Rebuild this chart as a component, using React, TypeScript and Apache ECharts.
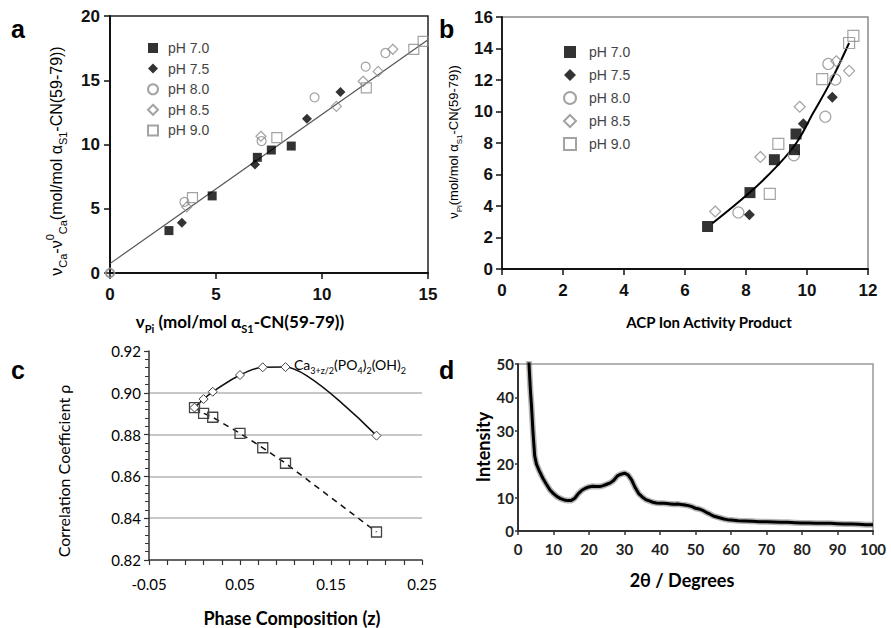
import React, { useEffect, useRef } from 'react';
import * as echarts from 'echarts';

const ARIAL = 'Liberation Sans, Arial, sans-serif';
const CAL = 'Lato, Open Sans, sans-serif';

const legendNames = ['pH 7.0', 'pH 7.5', 'pH 8.0', 'pH 8.5', 'pH 9.0'];

// Panel a: [nu_Pi, nu_Ca - nu0_Ca]
const a_pH70 = [[2.78, 3.3], [4.82, 6.0], [6.95, 9.0], [7.61, 9.57], [8.55, 9.88]];
const a_pH75 = [[3.39, 3.92], [6.84, 8.45], [9.29, 12.0], [10.87, 14.09]];
const a_pH80 = [[0, 0], [3.51, 5.53], [7.15, 10.27], [9.65, 13.67], [12.06, 16.06], [12.99, 17.12]];
const a_pH85 = [[0, 0], [3.62, 5.14], [7.12, 10.64], [10.68, 12.97], [11.94, 14.92], [12.65, 15.69], [13.34, 17.41]];
const a_pH90 = [[3.89, 5.86], [7.87, 10.53], [12.09, 14.4], [14.33, 17.41], [14.77, 18.03]];
const a_fit = [[0, 0.73], [15, 18.16]];

// Panel b: [ACP IAP, nu_Pi]
const b_pH70 = [[6.74, 2.7], [8.13, 4.85], [8.93, 6.94], [9.59, 7.58], [9.64, 8.57]];
const b_pH75 = [[8.11, 3.44], [9.88, 9.22], [10.83, 10.91]];
const b_pH80 = [[7.75, 3.59], [9.57, 7.22], [10.6, 9.67], [10.7, 13.02], [10.93, 12.03]];
const b_pH85 = [[6.99, 3.65], [8.47, 7.11], [9.76, 10.3], [10.96, 13.19], [11.38, 12.58]];
const b_pH90 = [[8.78, 4.77], [9.06, 7.94], [10.5, 12.05], [11.38, 14.35], [11.52, 14.8]];
const b_fit = [[6.9, 2.9], [8.12, 4.85], [9.0, 6.5], [9.65, 8.0], [10.2, 9.9], [10.75, 11.8], [11.38, 14.35]];

// Panel c
const c_z = [0, 0.01, 0.02, 0.05, 0.075, 0.1, 0.2];
const c_hydroxy = [0.8929, 0.897, 0.9005, 0.9085, 0.9122, 0.9123, 0.8795];
const c_other = [0.8929, 0.8902, 0.8883, 0.8806, 0.8737, 0.8663, 0.8334];
const C_XMIN = -0.05;

// Panel d
const xrdAngle = [2.9, 3.1, 3.5, 3.8, 4.2, 4.7, 5.2,
  6, 7, 8, 9, 10, 11, 12, 13, 14, 15, 16, 17, 18, 19, 20, 21, 22, 23, 24, 25, 26, 27, 28, 29, 30,
  31, 32, 33, 34, 35, 36, 37, 38, 39, 40, 41, 42, 43, 44, 45, 46, 47, 48, 49, 50,
  51, 52, 53, 54, 55, 56, 57, 58, 59, 60,
  62, 64, 66, 68, 70, 72, 74, 76, 78, 80, 82, 84, 86, 88, 90, 92, 94, 96, 98, 100];
const xrdIntensity = [55, 50, 42, 37.5, 30, 22.5, 20,
  18, 15.8, 14, 12.3, 11.2, 10.3, 9.7, 9.3, 9.1, 9.1, 9.8, 11.2, 12.2, 12.8, 13.2, 13.4, 13.3, 13.3, 13.6, 14, 14.4, 15.2, 16.5, 17, 17.3,
  16.8, 15.3, 13, 11.2, 10.2, 9.4, 9, 8.6, 8.4, 8.3, 8.3, 8.2, 8.1, 8.0, 8.1, 7.9, 7.8, 7.6, 7.3, 6.8,
  6.6, 6.2, 5.6, 5.1, 4.5, 4.2, 3.9, 3.6, 3.4, 3.3,
  3.1, 3.0, 2.9, 2.8, 2.8, 2.7, 2.6, 2.6, 2.5, 2.4, 2.4, 2.3, 2.3, 2.3, 2.2, 2.1, 2.1, 2.0, 1.9, 1.9];

const OPEN = '#8c8c8c';

function scatterSet(idx: number, sets: number[][][], sizes: number[]) {
  const styles = [
    { symbol: 'rect', itemStyle: { color: '#000' } },
    { symbol: 'diamond', itemStyle: { color: '#000' } },
    { symbol: 'circle', itemStyle: { color: 'rgba(255,255,255,0)', borderColor: OPEN, borderWidth: 1.2 } },
    { symbol: 'diamond', itemStyle: { color: 'rgba(255,255,255,0)', borderColor: OPEN, borderWidth: 1.2 } },
    { symbol: 'rect', itemStyle: { color: 'rgba(255,255,255,0)', borderColor: OPEN, borderWidth: 1.2 } },
  ];
  return sets.map((d, i) => ({
    type: 'scatter',
    name: legendNames[i],
    xAxisIndex: idx,
    yAxisIndex: idx,
    data: d,
    symbol: styles[i].symbol,
    symbolSize: sizes[i],
    itemStyle: styles[i].itemStyle,
    z: i < 2 ? 4 : 3,
  }));
}

function axis(grid: number, min: number, max: number, interval: number, o: any = {}) {
  return {
    type: 'value',
    gridIndex: grid,
    min,
    max,
    interval,
    axisLine: { show: true, onZero: false, lineStyle: { color: o.lineColor || '#111', width: o.lineWidth || 2 } },
    axisTick: { show: true, inside: false, length: o.tickLen ?? 6, lineStyle: { color: o.lineColor || '#111', width: o.tickWidth || 1.5 } },
    axisLabel: {
      fontFamily: o.font || ARIAL,
      fontWeight: o.weight || 'bold',
      fontSize: o.fontSize || 17,
      color: o.labelColor || '#111',
      margin: o.margin ?? 10,
      formatter: o.formatter,
      padding: o.padding,
    },
    splitLine: { show: false },
    ...(o.extra || {}),
  };
}

function rt(x: number, y: number, text: string, rich: any, rot = 0, align = 'center', extra: any = {}) {
  return {
    type: 'text',
    x,
    y,
    rotation: rot,
    style: { text, rich, align, verticalAlign: 'middle', ...extra },
  };
}

function richSet(font: string, main: number, small: number, weight = 'normal', color = '#111') {
  return {
    m: { fontFamily: font, fontSize: main, fontWeight: weight, color, lineHeight: main + 8 },
    s: { fontFamily: font, fontSize: small, fontWeight: weight, color, verticalAlign: 'bottom', lineHeight: small + 2 },
    p: { fontFamily: font, fontSize: small, fontWeight: weight, color, verticalAlign: 'top', lineHeight: small + 4 },
  };
}

export default function App() {
  const ref = useRef<HTMLDivElement>(null);
  useEffect(() => {
    document.body.style.margin = '0';
    const chart = echarts.init(ref.current!, null, { renderer: 'svg' });

    const option: any = {
      animation: false,
      backgroundColor: '#fff',
      grid: [
        { left: 110, top: 16, width: 318, height: 257, show: true, borderColor: '#222', borderWidth: 1.5, backgroundColor: 'rgba(0,0,0,0)' },
        { left: 502, top: 17, width: 366, height: 252, show: true, borderColor: '#8a8a8a', borderWidth: 1.5, backgroundColor: 'rgba(0,0,0,0)' },
        { left: 149, top: 351, width: 273, height: 209 },
        { left: 518, top: 364, width: 355, height: 167, show: true, borderColor: '#999', borderWidth: 1.5, backgroundColor: 'rgba(0,0,0,0)' },
      ],
      xAxis: [
        axis(0, 0, 15, 5, { margin: 13 }),
        axis(1, 0, 12, 2, { margin: 13, lineWidth: 1.8 }),
        axis(2, 0, 0.3, 0.1, {
          font: CAL, fontSize: 15, weight: 'normal', labelColor: '#000', margin: 16, lineColor: '#333', lineWidth: 1.5, tickLen: 5, tickWidth: 1.2,
          formatter: (v: number) => (v + C_XMIN).toFixed(2),
          extra: { minorTick: { show: true, splitNumber: 5, length: 5, lineStyle: { color: '#333', width: 1.2 } } },
        }),
        axis(3, 0, 100, 10, { font: CAL, fontSize: 15, labelColor: '#222', margin: 10, lineColor: '#333', lineWidth: 2, tickLen: 4 }),
      ],
      yAxis: [
        axis(0, 0, 20, 5, { margin: 10 }),
        axis(1, 0, 16, 2, { margin: 9, lineWidth: 1.8 }),
        axis(2, 0.82, 0.92, 0.02, {
          font: CAL, fontSize: 15, weight: 'normal', labelColor: '#000', margin: 8, lineColor: '#333', lineWidth: 1.5, tickLen: 5, tickWidth: 1.2,
          formatter: (v: number) => v.toFixed(2),
          extra: {
            minorTick: { show: true, splitNumber: 5, length: 4, lineStyle: { color: '#333', width: 1 } },
            splitLine: { show: true, showMinLine: false, showMaxLine: false, lineStyle: { color: '#b4b4b4', width: 1.5 } },
          },
        }),
        axis(3, 0, 50, 10, { font: CAL, fontSize: 15, labelColor: '#222', margin: 4, lineColor: '#333', lineWidth: 2, tickLen: 3, padding: [8, 0, 0, 0] }),
      ],
      legend: [
        {
          left: 147, top: 41, orient: 'vertical', padding: 0, itemWidth: 10, itemHeight: 10, itemGap: 6.6,
          data: legendNames, selectedMode: false,
          textStyle: { fontFamily: ARIAL, fontSize: 14, color: '#444', padding: [0, 0, 0, 5] },
        },
        {
          left: 563, top: 45, orient: 'vertical', padding: 0, itemWidth: 12, itemHeight: 12, itemGap: 9,
          data: legendNames, selectedMode: false,
          textStyle: { fontFamily: ARIAL, fontSize: 14, color: '#444', padding: [0, 0, 0, 8] },
        },
      ],
      series: [
        {
          type: 'line', xAxisIndex: 0, yAxisIndex: 0, data: a_fit, symbol: 'none',
          lineStyle: { color: '#555', width: 1.2 }, z: 2,
        },
        ...scatterSet(0, [a_pH70, a_pH75, a_pH80, a_pH85, a_pH90], [9, 10, 9, 10, 10]),
        {
          type: 'line', xAxisIndex: 1, yAxisIndex: 1, data: b_fit, symbol: 'none', smooth: 0.4,
          lineStyle: { color: '#000', width: 2 }, z: 2,
        },
        ...scatterSet(1, [b_pH70, b_pH75, b_pH80, b_pH85, b_pH90], [11, 11, 11, 11, 11]),
        {
          type: 'line', name: 'hydroxy', xAxisIndex: 2, yAxisIndex: 2,
          data: c_z.map((z, i) => [z - C_XMIN, c_hydroxy[i]]),
          smooth: 0.25, symbol: 'diamond', symbolSize: 9, showSymbol: true,
          lineStyle: { color: '#111', width: 1.5 },
          itemStyle: { color: '#fff', borderColor: '#444', borderWidth: 1 }, z: 3,
        },
        {
          type: 'line', name: 'other', xAxisIndex: 2, yAxisIndex: 2,
          data: c_z.map((z, i) => [z - C_XMIN, c_other[i]]),
          symbol: 'rect', symbolSize: 10, showSymbol: true,
          lineStyle: { color: '#111', width: 1.5, type: [6, 5] },
          itemStyle: { color: 'rgba(255,255,255,0)', borderColor: '#444', borderWidth: 1.3 }, z: 3,
        },
        {
          type: 'line', xAxisIndex: 3, yAxisIndex: 3,
          data: xrdAngle.map((a, i) => [a, xrdIntensity[i]]),
          symbol: 'none', lineStyle: { color: 'rgba(110,110,110,0.5)', width: 6 }, z: 2,
        },
        {
          type: 'line', xAxisIndex: 3, yAxisIndex: 3,
          data: xrdAngle.map((a, i) => [a, xrdIntensity[i]]),
          symbol: 'none', lineStyle: { color: '#000', width: 3 }, z: 3,
        },
      ],
      graphic: [
        { type: 'text', x: 11, y: 29, style: { text: 'a', font: 'bold 25px Liberation Sans', fill: '#000', verticalAlign: 'middle' } },
        { type: 'text', x: 439, y: 29, style: { text: 'b', font: 'bold 25px Liberation Sans', fill: '#000', verticalAlign: 'middle' } },
        { type: 'text', x: 11, y: 370, style: { text: 'c', font: 'bold 25px Liberation Sans', fill: '#000', verticalAlign: 'middle' } },
        { type: 'text', x: 439, y: 370, style: { text: 'd', font: 'bold 25px Liberation Sans', fill: '#000', verticalAlign: 'middle' } },
        rt(56, 161, '{m|ν}{s|Ca}{m|-ν}{p|0}{s|Ca}{m|(mol/mol α}{s|S1}{m|-CN(59-79))}', richSet(ARIAL, 16, 11, 'normal', '#222'), Math.PI / 2),
        rt(240, 321, '{m|ν}{s|Pi}{m| (mol/mol α}{s|S1}{m|-CN(59-79))}', richSet(CAL, 17, 11, 'bold', '#111')),
        rt(453, 142, '{m|ν}{s|Pi}{m|(mol/mol α}{s|S1}{m|-CN(59-79))}', richSet(ARIAL, 13, 8, 'normal', '#333'), Math.PI / 2),
        rt(709, 322, '{m|ACP Ion Activity Product}', richSet(CAL, 15, 10, 'bold', '#111')),
        rt(63, 471, '{m|Correlation Coefficient ρ}', richSet(CAL, 16, 10, 'normal', '#111'), Math.PI / 2),
        rt(292, 618, '{m|Phase Composition (z)}', richSet(CAL, 18, 10, 'bold', '#111')),
        rt(294, 364, '{m|Ca}{s|3+z/2}{m|(PO}{s|4}{m|)}{s|2}{m|(OH)}{s|2}', richSet(CAL, 14, 9, 'normal', '#111'), 0, 'left'),
        rt(483, 447, '{m|Intensity}', richSet(CAL, 18, 10, 'bold', '#111'), Math.PI / 2),
        rt(682, 580, '{m|2θ / Degrees}', richSet(CAL, 18, 10, 'bold', '#111')),
      ],
    };

    chart.setOption(option);
    return () => chart.dispose();
  }, []);
  return <div ref={ref} style={{ width: 891, height: 628, background: '#fff' }} />;
}
